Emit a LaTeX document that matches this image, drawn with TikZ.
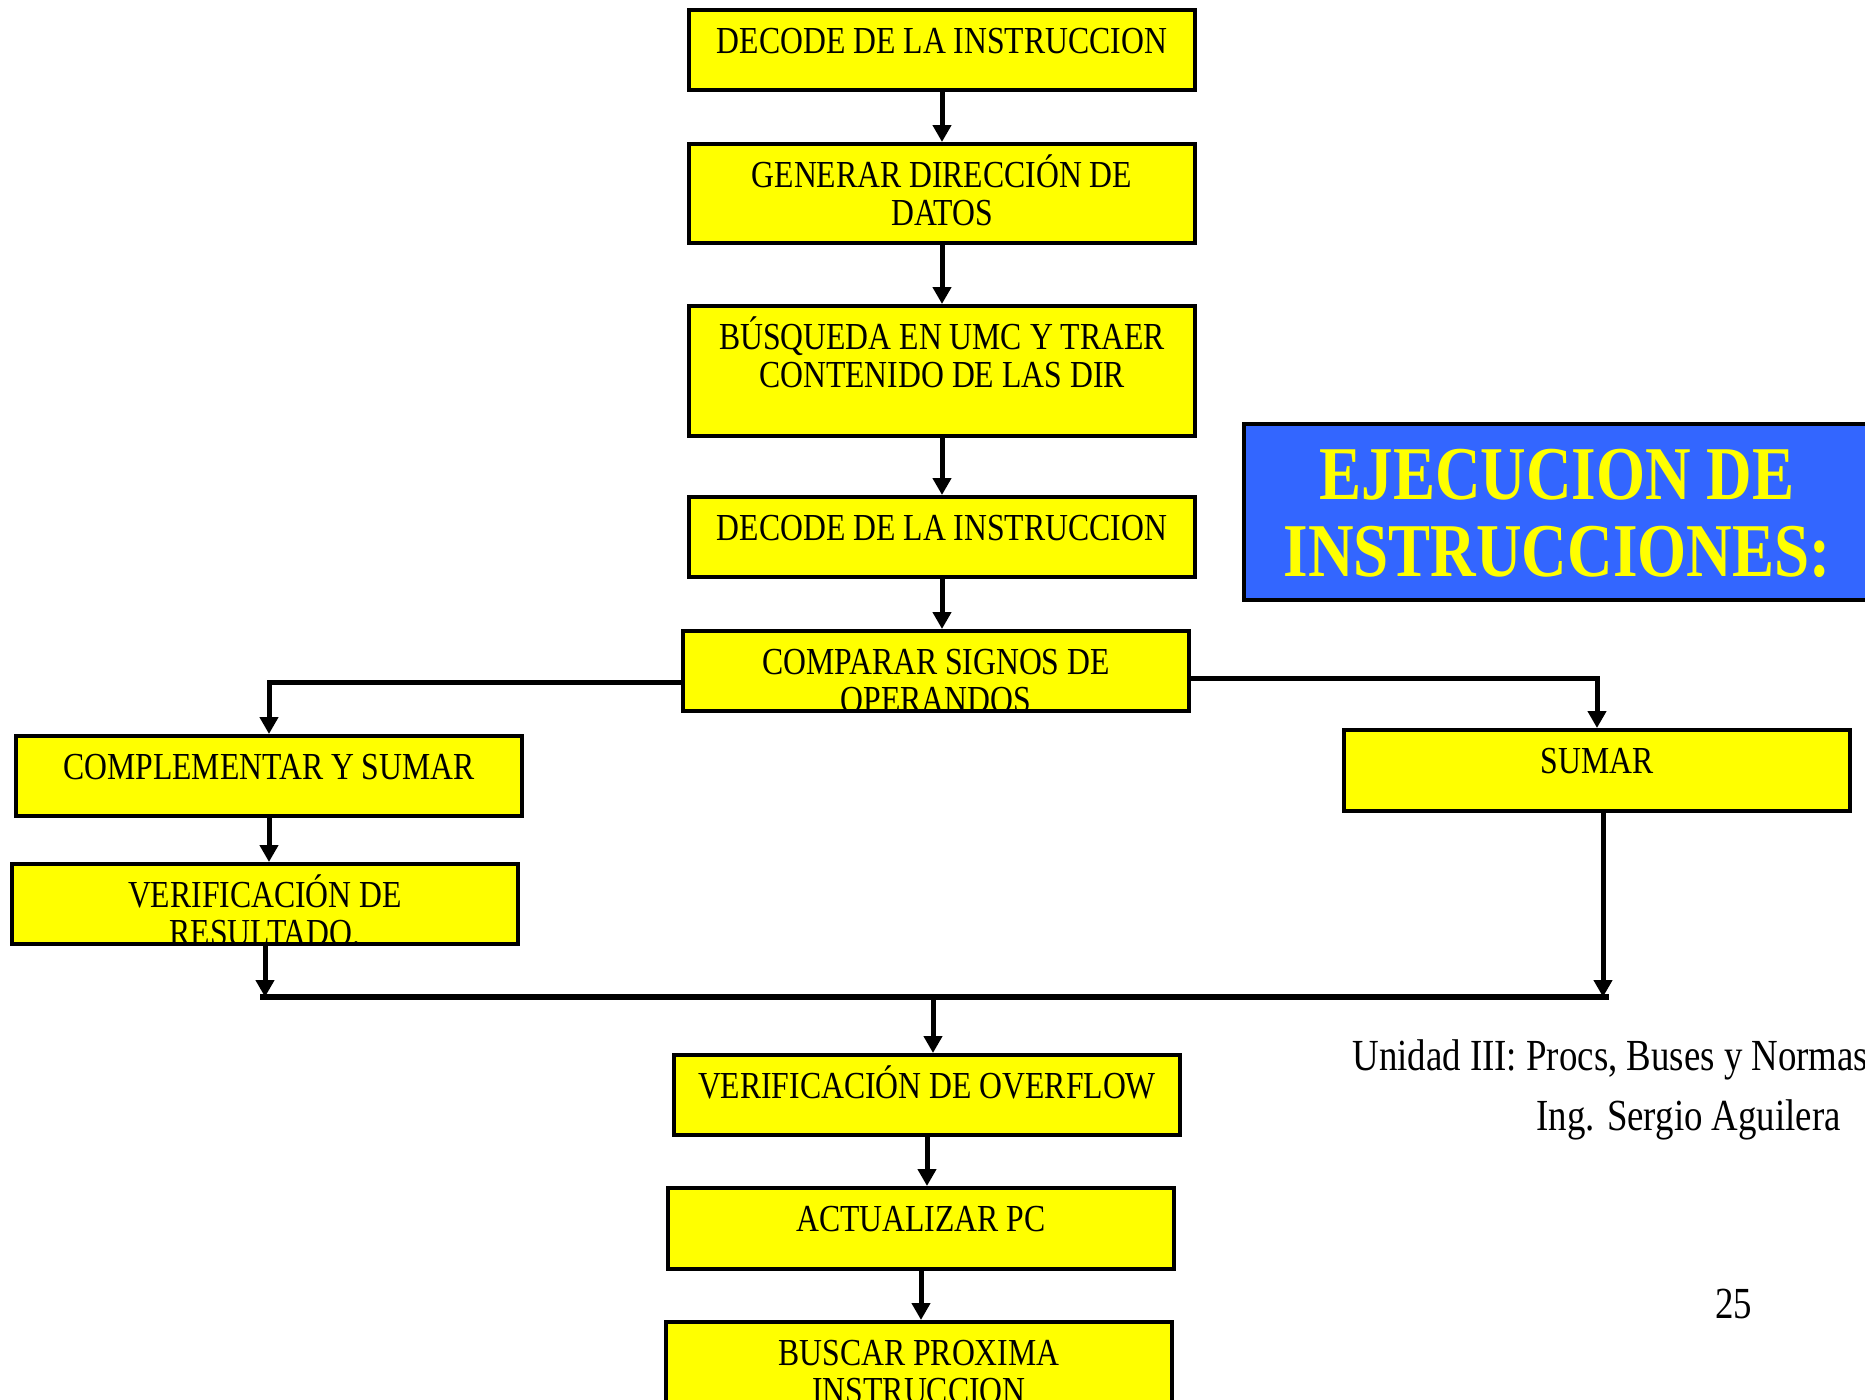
\documentclass[tikz,border=0pt]{standalone}
\usepackage{fontspec}
\setmainfont{Liberation Serif}[FakeStretch=0.83]
\usetikzlibrary{arrows.meta,positioning}
\tikzset{
every picture/.style={
line width=2.5pt
}}
\definecolor{titleblue}{RGB}{51,102,255}
\definecolor{boxyellow}{RGB}{255,255,0}
% text hangs from the top of each box
\newcommand{\boxtxt}[2]{\parbox[c][#1][t]{253pt}{\centering\fontsize{19.1pt}{19pt}\selectfont\rule{0pt}{21.5pt}#2}}

\begin{document}
\begin{tikzpicture}[x=0.5pt, y=-0.5pt,
block/.style = {rectangle, draw=black, fill=boxyellow, line width=2pt, inner sep=0pt, anchor=north west},
arr/.style = {-{Triangle[width=9pt,length=8.5pt]}},
foot/.style = {anchor=base west, inner sep=0pt, font=\fontsize{22.2pt}{24pt}\selectfont}]
\useasboundingbox (0,0) rectangle (1865,1399);
\clip (0,0) rectangle (1865,1399);

\node[block] at (687,8) (dec1) {\boxtxt{40pt}{DECODE DE LA INSTRUCCION}};
\node[block] at (687,142) (gen) {\boxtxt{49.5pt}{GENERAR DIRECCIÓN DE\\DATOS}};
\node[block] at (687,304) (busq) {\boxtxt{65pt}{BÚSQUEDA EN UMC Y TRAER\\CONTENIDO DE LAS DIR}};
\node[block] at (687,495) (dec2) {\boxtxt{40pt}{DECODE DE LA INSTRUCCION}};
\node[block] at (681,629) (comp) {\boxtxt{40pt}{COMPARAR SIGNOS DE\\OPERANDOS}};
\node[block] at (14,734) (compl) {\boxtxt{40pt}{COMPLEMENTAR Y SUMAR}};
\node[block] at (10,862) (verif) {\boxtxt{40pt}{VERIFICACIÓN DE\\RESULTADO.}};
\node[block] at (1342,728) (sumar) {\boxtxt{40.5pt}{SUMAR}};
\node[block] at (672,1053) (ovf) {\boxtxt{40pt}{VERIFICACIÓN DE OVERFLOW}};
\node[block] at (666,1186) (act) {\boxtxt{40.5pt}{ACTUALIZAR PC}};
\node[block] at (664,1320) (busc) {\boxtxt{49.5pt}{BUSCAR PROXIMA\\INSTRUCCION}};

% title box
\node[draw=black, fill=titleblue, line width=2pt, inner sep=0pt, anchor=north west, text=boxyellow] at (1242,422) (titulo)
  {\parbox[c][88pt][t]{313pt}{\centering\fontsize{38pt}{38.5pt}\selectfont\bfseries\rule{0pt}{37.5pt}EJECUCION DE\\INSTRUCCIONES:}};

\node[foot] at (1350,1070) (unidad) {Unidad III: Procs, Buses y Normas};
\node[foot] at (1534,1130) (autor) {Ing. Sergio Aguilera};
\node[foot] at (1713,1318) (pag) {25};

\coordinate (mL) at (260,997);
\coordinate (mR) at (1609,997);

\draw[arr] (dec1) -- (gen);
\draw[arr] (gen) -- (busq);
\draw[arr] (busq) -- (dec2);
\draw[arr] (dec2.south) -- (dec2.south |- comp.north);
\draw[arr] ([yshift=-5.5pt]comp.west) -| (compl);
\draw[arr] ([yshift=-3.5pt]comp.east) -| (sumar);
\draw[arr] (compl) -- (compl |- verif.north);
\draw[arr] (verif.south) -- (verif.south |- mL);
\draw[arr] ([xshift=3pt]sumar.south) -- ([xshift=3pt]sumar.south |- mL);
\draw[line width=3pt] (mL) -- (mR);
\draw[arr] ([xshift=3pt]ovf.north |- mL) -- ([xshift=3pt]ovf.north);
\draw[arr] (ovf.south) -- (ovf.south |- act.north);
\draw[arr] (act.south) -- (act.south |- busc.north);
\end{tikzpicture}
\end{document}
